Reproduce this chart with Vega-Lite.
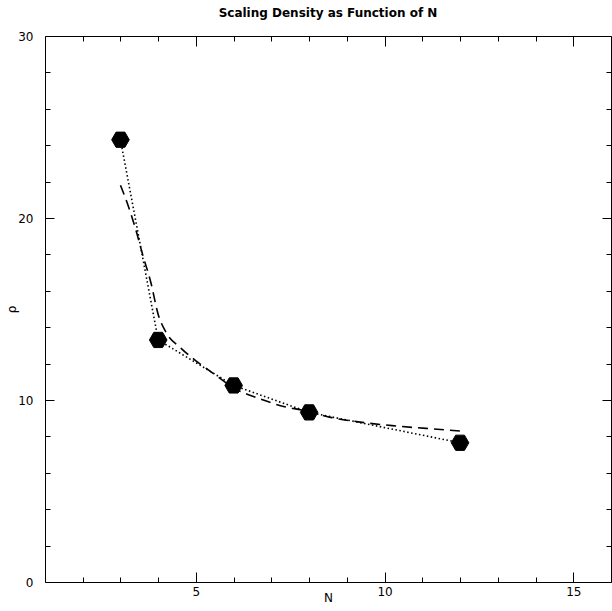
{
  "$schema": "https://vega.github.io/schema/vega-lite/v6.json",
  "autosize": "none",
  "width": 566,
  "height": 546,
  "padding": {"left": 45, "top": 36, "right": 1, "bottom": 29},
  "background": "white",
  "title": {"text": "Scaling Density as Function of N", "font": "DejaVu Sans", "fontSize": 12, "fontWeight": "bold", "color": "black", "offset": 10, "anchor": "middle"},
  "config": {
    "view": {"stroke": null},
    "axis": {"domainColor": "black", "tickColor": "black", "labelColor": "black", "titleColor": "black", "labelFont": "DejaVu Sans", "titleFont": "DejaVu Sans", "labelFontSize": 12, "titleFontSize": 12, "titleFontWeight": "normal", "grid": false, "domainWidth": 1, "tickWidth": 1}
  },
  "datasets": {
    "obs": [
      {"N": 3, "rho": 24.3},
      {"N": 4, "rho": 13.3},
      {"N": 6, "rho": 10.8},
      {"N": 8, "rho": 9.32},
      {"N": 12, "rho": 7.65}
    ],
    "fit": [
      {"N": 3.0, "rho": 21.8},
      {"N": 3.2, "rho": 20.7},
      {"N": 3.4, "rho": 19.4},
      {"N": 3.6, "rho": 17.9},
      {"N": 3.8, "rho": 16.5},
      {"N": 4.0, "rho": 14.7},
      {"N": 4.2, "rho": 13.75},
      {"N": 4.6, "rho": 12.85},
      {"N": 5.0, "rho": 12.15},
      {"N": 5.4, "rho": 11.55},
      {"N": 6.1, "rho": 10.55},
      {"N": 6.65, "rho": 10.1},
      {"N": 7.35, "rho": 9.63},
      {"N": 7.8, "rho": 9.45},
      {"N": 8.6, "rho": 9.03},
      {"N": 9.3, "rho": 8.8},
      {"N": 10.2, "rho": 8.59},
      {"N": 11.1, "rho": 8.44},
      {"N": 12.0, "rho": 8.3}
    ]
  },
  "resolve": {"axis": {"x": "independent", "y": "independent"}},
  "layer": [
    {
      "data": {"name": "obs"},
      "mark": {"type": "line", "color": "black", "strokeWidth": 1.6, "strokeDash": [1.5, 2.5], "interpolate": "linear"},
      "encoding": {
        "x": {"field": "N", "type": "quantitative", "scale": {"domain": [1, 16], "nice": false, "zero": false},
          "axis": {"orient": "bottom", "title": "N", "values": [5, 10, 15], "tickSize": -10, "labelPadding": 14, "titlePadding": -5, "labelFlush": false}},
        "y": {"field": "rho", "type": "quantitative", "scale": {"domain": [0, 30], "nice": false},
          "axis": {"orient": "left", "title": "ρ", "values": [0, 10, 20, 30], "tickSize": -9, "labelPadding": 21, "titlePadding": -1, "labelFlush": false}}
      }
    },
    {
      "data": {"name": "fit"},
      "mark": {"type": "line", "color": "black", "strokeWidth": 1.6, "strokeDash": [10, 6], "interpolate": "monotone"},
      "encoding": {
        "x": {"field": "N", "type": "quantitative", "scale": {"domain": [1, 16], "nice": false, "zero": false},
          "axis": {"orient": "bottom", "title": null, "labels": false, "domain": false, "values": [2,3,4,6,7,8,9,11,12,13,14], "tickSize": -5}},
        "y": {"field": "rho", "type": "quantitative", "scale": {"domain": [0, 30], "nice": false},
          "axis": {"orient": "left", "title": null, "labels": false, "domain": false, "values": [2,4,6,8,12,14,16,18,22,24,26,28], "tickSize": -5}}
      }
    },
    {
      "data": {"name": "obs"},
      "mark": {"type": "point", "shape": "M-1,0L-0.5,-0.866L0.5,-0.866L1,0L0.5,0.866L-0.5,0.866Z", "size": 310, "filled": true, "color": "black", "opacity": 1, "strokeWidth": 0},
      "encoding": {
        "x": {"field": "N", "type": "quantitative", "scale": {"domain": [1, 16], "nice": false, "zero": false},
          "axis": {"orient": "top", "title": null, "labels": false, "values": [5, 10, 15], "tickSize": -10}},
        "y": {"field": "rho", "type": "quantitative", "scale": {"domain": [0, 30], "nice": false},
          "axis": {"orient": "right", "title": null, "labels": false, "values": [0, 10, 20, 30], "tickSize": -9}}
      }
    },
    {
      "data": {"name": "obs"},
      "mark": {"type": "point", "shape": "M-1,0L-0.5,-0.866L0.5,-0.866L1,0L0.5,0.866L-0.5,0.866Z", "size": 310, "filled": false, "color": "black", "opacity": 1, "strokeWidth": 1},
      "encoding": {
        "x": {"field": "N", "type": "quantitative", "scale": {"domain": [1, 16], "nice": false, "zero": false},
          "axis": {"orient": "top", "title": null, "labels": false, "domain": false, "values": [2,3,4,6,7,8,9,11,12,13,14], "tickSize": -5}},
        "y": {"field": "rho", "type": "quantitative", "scale": {"domain": [0, 30], "nice": false},
          "axis": {"orient": "right", "title": null, "labels": false, "domain": false, "values": [2,4,6,8,12,14,16,18,22,24,26,28], "tickSize": -5}}
      }
    }
  ]
}
